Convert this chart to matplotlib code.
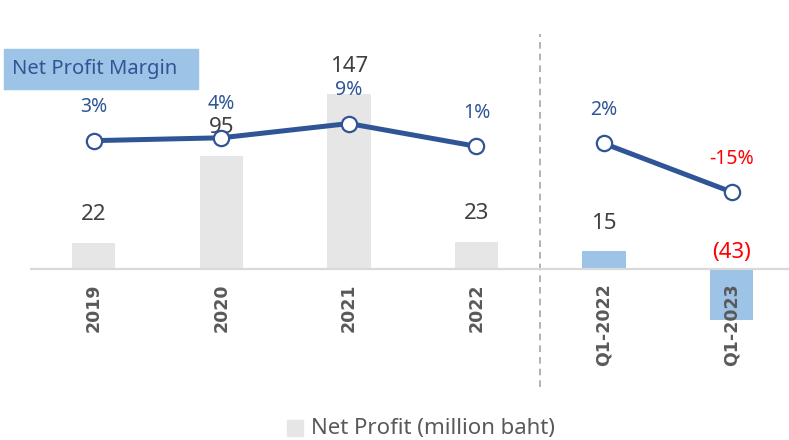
import matplotlib.pyplot as plt
from matplotlib.patches import Rectangle

# data
periods = ['2019', '2020', '2021', '2022', 'Q1-2022', 'Q1-2023']
net_profit = [22, 95, 147, 23, 15, -43]
profit_labels = ['22', '95', '147', '23', '15', '(43)']
margin = [3, 4, 9, 1, 2, -15]
margin_labels = ['3%', '4%', '9%', '1%', '2%', '-15%']

GREY_BAR = '#E7E6E6'
BLUE_BAR = '#9DC3E6'
LINE_BLUE = '#2F5597'
TEXT_DARK = '#404040'
TEXT_GREY = '#595959'
RED = '#FF0000'

W, H = 789, 440

plt.rcParams['font.family'] = ['Noto Sans', 'DejaVu Sans']


def px(x, y, w=0, h=0):
    # pixel box (from top-left) -> figure fraction rect
    return [x / W, 1 - (y + h) / H, w / W, h / H]


def main():
    fig = plt.figure(figsize=(W / 100, H / 100), dpi=100)
    ax = fig.add_axes(px(30, 20, W - 30, 320))
    ax.set_xlim(-0.5, 5.45)
    ax.set_ylim(-59.7, 209)
    for s in ax.spines.values():
        s.set_visible(False)
    ax.set_xticks([])
    ax.set_yticks([])

    xs = list(range(len(periods)))
    colors = [GREY_BAR] * 4 + [BLUE_BAR] * 2
    ax.bar(xs, net_profit, width=0.34, color=colors, zorder=2)
    ax.axhline(0, color='#D9D9D9', lw=1.6, zorder=3)

    # separator between years and quarters
    ax.axvline(3.5, ymin=-0.147, ymax=0.955, color='#A6A6A6', lw=1.2,
               ls=(0, (4, 3)), clip_on=False, zorder=1)

    for x, v, lab in zip(xs, net_profit, profit_labels):
        if v >= 0:
            ax.annotate(lab, (x, v), xytext=(0, 20), textcoords='offset points',
                        ha='center', va='center', fontsize=16, color=TEXT_DARK,
                        zorder=6)
        else:
            ax.annotate(lab, (x, 0), xytext=(0, 11.5), textcoords='offset points',
                        ha='center', va='center', fontsize=16, color=RED,
                        fontweight='bold', zorder=6)

    for x, lab in zip(xs, periods):
        ax.annotate(lab, (x, 0), xytext=(0, -10.5), textcoords='offset points',
                    ha='center', va='top', rotation=90, fontsize=12.5,
                    fontweight='bold', color=TEXT_GREY, family='DejaVu Sans')

    # margin line on secondary axis
    ax2 = ax.twinx()
    ax2.set_ylim(-66.9, 45.3)
    ax2.set_yticks([])
    for s in ax2.spines.values():
        s.set_visible(False)
    ax2.plot(xs[:4], margin[:4], '-o', color=LINE_BLUE, lw=3.6, ms=11,
             mfc='white', mec=LINE_BLUE, mew=1.6, zorder=5)
    ax2.plot(xs[4:], margin[4:], '-o', color=LINE_BLUE, lw=3.6, ms=11,
             mfc='white', mec=LINE_BLUE, mew=1.6, zorder=5)
    for x, v, lab in zip(xs, margin, margin_labels):
        ax2.annotate(lab, (x, v), xytext=(0, 24), textcoords='offset points',
                     ha='center', va='center', fontsize=14,
                     color=RED if v < 0 else LINE_BLUE)

    # "Net Profit Margin" tag
    tag = px(4, 49, 194, 40)
    fig.patches.append(Rectangle(tag[:2], tag[2], tag[3],
                                 transform=fig.transFigure, color=BLUE_BAR,
                                 zorder=0))
    fig.text(12 / W, 1 - 69 / H, 'Net Profit Margin', fontsize=14.5,
             color=LINE_BLUE, ha='left', va='center')

    # legend
    sq = px(287, 420, 16, 16)
    fig.patches.append(Rectangle(sq[:2], sq[2], sq[3],
                                 transform=fig.transFigure, color=GREY_BAR))
    fig.text(311 / W, 1 - 428 / H, 'Net Profit (million baht)', fontsize=16,
             color=TEXT_GREY, ha='left', va='center')

    fig.savefig('out.png', dpi=100)
    plt.close(fig)


if __name__ == '__main__':
    main()
